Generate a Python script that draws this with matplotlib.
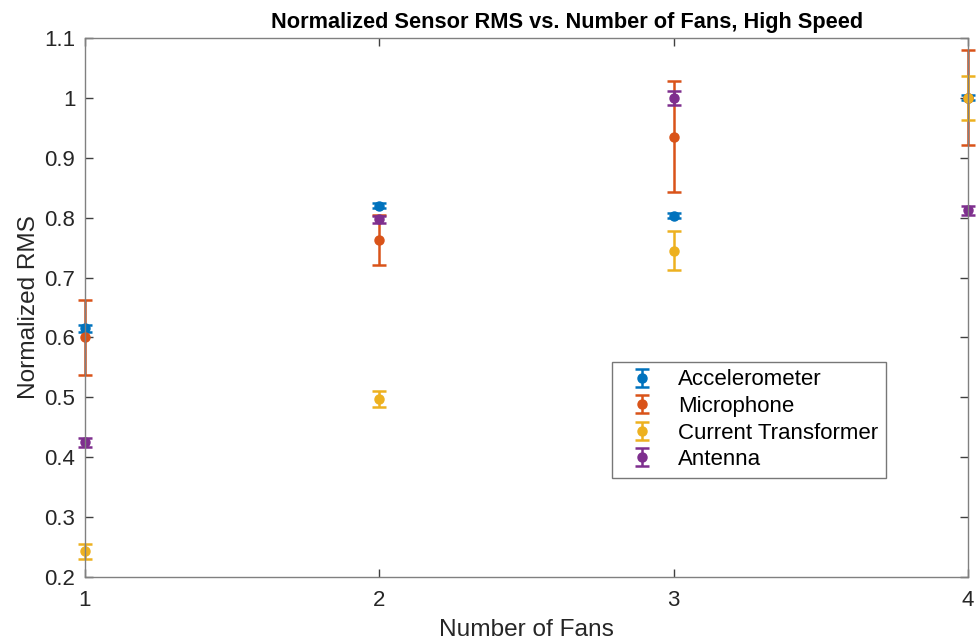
import matplotlib.pyplot as plt
from matplotlib.legend_handler import HandlerErrorbar
import numpy as np

plt.rcParams['font.family'] = ['Liberation Sans', 'DejaVu Sans']

fans = [1, 2, 3, 4]
sensors = ["Accelerometer", "Microphone", "Current Transformer", "Antenna"]
colors = ["#0072BD", "#D95319", "#EDB120", "#7E2F8E"]

accel_rms = [0.615, 0.820, 0.803, 1.000]
accel_err = [0.006, 0.004, 0.004, 0.004]
mic_rms = [0.600, 0.763, 0.935, 1.000]
mic_err = [0.062, 0.042, 0.093, 0.079]
ct_rms = [0.243, 0.497, 0.745, 1.000]
ct_err = [0.012, 0.013, 0.033, 0.037]
ant_rms = [0.425, 0.797, 1.000, 0.812]
ant_err = [0.007, 0.006, 0.012, 0.008]

rms = [accel_rms, mic_rms, ct_rms, ant_rms]
errs = [accel_err, mic_err, ct_err, ant_err]

fig = plt.figure(figsize=(9.79, 6.42), dpi=100)
ax = fig.add_axes([0.0868, 0.101, 0.902, 0.840])

handles = []
for name, c, y, e in zip(sensors, colors, rms, errs):
    h = ax.errorbar(fans, y, yerr=e, fmt='o', color=c, ecolor=c, markersize=6.5,
                    elinewidth=1.8, capsize=5, capthick=1.8, label=name, clip_on=False)
    handles.append(h)

ax.set_xlim(1, 4)
ax.set_ylim(0.2, 1.1)
ax.set_xticks(fans)
ax.set_yticks(np.arange(0.2, 1.11, 0.1))
ax.set_yticklabels(["0.2", "0.3", "0.4", "0.5", "0.6", "0.7", "0.8", "0.9", "1", "1.1"])
ax.tick_params(direction='in', top=True, right=True, labelsize=16,
               color='#404040', labelcolor='#262626', length=6, width=1)
ax.tick_params(axis='y', pad=7)
ax.tick_params(axis='x', pad=9)
for s in ax.spines.values():
    s.set_color('#808080')
    s.set_linewidth(1)

ax.set_title("Normalized Sensor RMS vs. Number of Fans, High Speed",
             fontsize=15.7, fontweight='bold', pad=7, x=0.546)
ax.set_xlabel("Number of Fans", fontsize=17.6, color='#262626', labelpad=6)
ax.set_ylabel("Normalized RMS", fontsize=17.6, color='#262626', labelpad=3)

leg = ax.legend(handles=handles, loc='lower left', bbox_to_anchor=(0.597, 0.184),
                fontsize=16, frameon=True, fancybox=False, handlelength=2.0,
                borderpad=0.35, labelspacing=0.25, handletextpad=0.6,
                borderaxespad=0,
                handler_map={type(handles[0]): HandlerErrorbar(yerr_size=0.4)})
leg.get_frame().set_edgecolor('#555555')
leg.get_frame().set_linewidth(1)

plt.savefig("out.png", dpi=100)
